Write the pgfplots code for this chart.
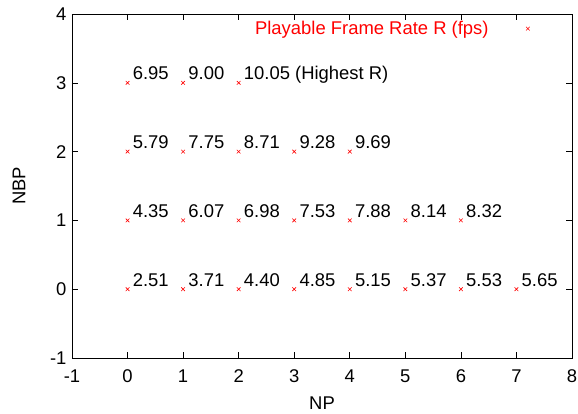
\documentclass[border=0pt]{standalone}
\usepackage{fontspec}
\setmainfont{Liberation Sans}
\usepackage{pgfplots}
\pgfplotsset{compat=1.18}
\begin{document}
\begin{tikzpicture}
\useasboundingbox (-72bp,-56bp) rectangle (506bp,358bp);
\begin{axis}[
  at={(0,0)}, anchor=south west, scale only axis,
  width=500bp, height=344bp,
  xmin=-1, xmax=8, ymin=-1, ymax=4,
  xtick={-1,0,...,8}, ytick={-1,0,...,4},
  tick align=inside, major tick length=6bp,
  axis line style={line width=0.8bp},
  every tick/.style={black, line width=0.6bp},
  font=\fontsize{18.5}{21}\selectfont,
  /pgf/number format/assume math mode=true,
  xlabel={NP}, ylabel={NBP},
  xlabel style={yshift=-7bp},
  ylabel style={yshift=18bp},
  xticklabel style={yshift=-8bp},
  yticklabel style={xshift=-2bp},
  legend style={draw=none, fill=none, at={(1,1)}, anchor=north east,
    xshift=-38bp, yshift=-3bp},
  legend plot pos=right,
  legend cell align=right,
  legend image code/.code={\path (0bp,0bp) (39.6bp,0bp); \draw plot coordinates {(37bp,0bp)};},
]
\addplot[only marks, mark=x, mark size=2.6bp, red, line width=0.6bp,
  point meta=explicit symbolic,
  nodes near coords,
  every node near coord/.append style={black, anchor=base west, inner sep=0pt, xshift=5bp, yshift=3bp, font=\fontsize{18.5}{21}\selectfont}]
  table[col sep=comma, meta=label] {
x,y,label
0,3,6.95
1,3,9.00
2,3,10.05 (Highest R)
0,2,5.79
1,2,7.75
2,2,8.71
3,2,9.28
4,2,9.69
0,1,4.35
1,1,6.07
2,1,6.98
3,1,7.53
4,1,7.88
5,1,8.14
6,1,8.32
0,0,2.51
1,0,3.71
2,0,4.40
3,0,4.85
4,0,5.15
5,0,5.37
6,0,5.53
7,0,5.65
};
\addlegendentry{\textcolor{red}{Playable Frame Rate R (fps)}}
\end{axis}
\end{tikzpicture}
\end{document}
